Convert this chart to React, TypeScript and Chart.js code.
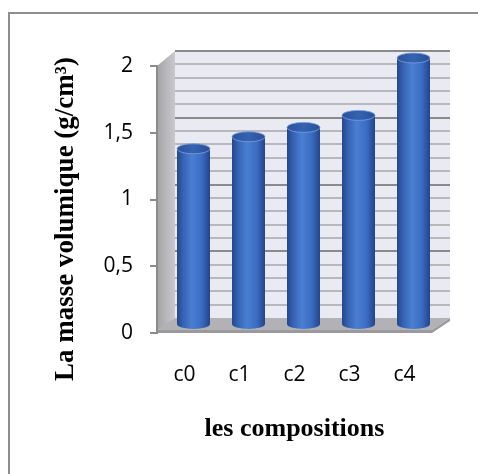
import React, { useEffect, useRef } from "react";
import { Chart, registerables } from "chart.js";

Chart.register(...registerables);

// ---- data ----
const categories = ["c0", "c1", "c2", "c3", "c4"];
const densities = [1.32, 1.41, 1.48, 1.57, 2.0];
const yTickValues = [0, 0.5, 1, 1.5, 2];
const yTitle = "La masse volumique (g/cm³)";
const xTitle = "les compositions";

// ---- style ----
const WALL_DX = 18;
const WALL_DY = -15;
const BAR_DX = 9;
const BAR_DY = -8;
const BAR_RY = 5;
const BAR_FRACTION = 0.6;
const MINOR_STEP = 0.1;
const TICK_FONT = '"Open Sans", "DejaVu Sans", sans-serif';
const TITLE_FONT = '"Liberation Serif", "DejaVu Serif", serif';

function sideGradient(ctx: CanvasRenderingContext2D, cx: number, half: number) {
  const g = ctx.createLinearGradient(cx - half, 0, cx + half, 0);
  g.addColorStop(0, "#24478a");
  g.addColorStop(0.18, "#3562b4");
  g.addColorStop(0.45, "#4a7fd2");
  g.addColorStop(0.75, "#3b6cc2");
  g.addColorStop(1, "#23448a");
  return g;
}

function topGradient(ctx: CanvasRenderingContext2D, cx: number, half: number) {
  const g = ctx.createLinearGradient(cx - half, 0, cx + half, 0);
  g.addColorStop(0, "#2b519c");
  g.addColorStop(0.5, "#3563b2");
  g.addColorStop(1, "#2a4f98");
  return g;
}

function barFill(c: any) {
  const chart = c.chart;
  const xs = chart.scales && chart.scales.x;
  if (!xs || c.type !== "data" || !chart.chartArea) return "#3a6bc0";
  const slot = (xs.right - xs.left) / categories.length;
  const cx = xs.getPixelForValue(c.dataIndex);
  return sideGradient(chart.ctx, cx, (slot * BAR_FRACTION) / 2);
}

const threeD = {
  id: "threeD",
  beforeDraw(chart: any) {
    const { ctx, chartArea: a, scales } = chart;
    const y = scales.y;
    const L = a.left;
    const R = a.right;
    const y0 = y.getPixelForValue(0);
    const yTop = y.getPixelForValue(y.max);
    ctx.save();
    // back wall
    ctx.fillStyle = "#e9eaf2";
    ctx.fillRect(L + WALL_DX, yTop + WALL_DY, R - L, y0 - yTop);
    // left wall
    const lg = ctx.createLinearGradient(L, 0, L + WALL_DX, 0);
    lg.addColorStop(0, "#a4a4a6");
    lg.addColorStop(1, "#c9c9cd");
    ctx.fillStyle = lg;
    ctx.beginPath();
    ctx.moveTo(L, yTop);
    ctx.lineTo(L + WALL_DX, yTop + WALL_DY);
    ctx.lineTo(L + WALL_DX, y0 + WALL_DY);
    ctx.lineTo(L, y0);
    ctx.closePath();
    ctx.fill();
    // gridlines on back wall
    const n = Math.round(y.max / MINOR_STEP);
    for (let i = 1; i <= n; i++) {
      const v = i * MINOR_STEP;
      const major = i % 5 === 0;
      const py = Math.round(y.getPixelForValue(v) + WALL_DY);
      ctx.strokeStyle = major ? "#8a8a8c" : "#b8b8bc";
      ctx.lineWidth = 2;
      ctx.beginPath();
      ctx.moveTo(L + WALL_DX, py);
      ctx.lineTo(R + WALL_DX, py);
      ctx.stroke();
    }
    // floor top
    ctx.fillStyle = "#b2b2b6";
    ctx.beginPath();
    ctx.moveTo(L, y0 - 3);
    ctx.lineTo(L + WALL_DX, y0 + WALL_DY);
    ctx.lineTo(R + WALL_DX, y0 + WALL_DY);
    ctx.lineTo(R, y0 - 3);
    ctx.closePath();
    ctx.fill();
    // floor front face
    ctx.fillStyle = "#9a9a9e";
    ctx.fillRect(L, y0 - 3, R - L, 3);
    ctx.beginPath();
    ctx.moveTo(R, y0 - 3);
    ctx.lineTo(R + WALL_DX, y0 + WALL_DY);
    ctx.lineTo(R + WALL_DX, y0 + WALL_DY + 3);
    ctx.lineTo(R, y0);
    ctx.closePath();
    ctx.fill();
    ctx.restore();
  },
  beforeDatasetsDraw(chart: any) {
    chart.ctx.save();
    chart.ctx.translate(BAR_DX, BAR_DY);
  },
  afterDatasetsDraw(chart: any) {
    const ctx = chart.ctx;
    const meta = chart.getDatasetMeta(0);
    meta.data.forEach((el: any) => {
      const { x, y, base, width } = el.getProps(["x", "y", "base", "width"], true);
      const half = width / 2;
      ctx.beginPath();
      ctx.ellipse(x, base, half, BAR_RY, 0, 0, Math.PI);
      ctx.fillStyle = sideGradient(ctx, x, half);
      ctx.fill();
      ctx.beginPath();
      ctx.ellipse(x, y, half, BAR_RY, 0, 0, Math.PI * 2);
      ctx.fillStyle = topGradient(ctx, x, half);
      ctx.fill();
      ctx.strokeStyle = "rgba(120,160,225,0.8)";
      ctx.lineWidth = 1;
      ctx.stroke();
    });
    ctx.restore();
  },
  afterDraw(chart: any) {
    const { ctx, chartArea: a } = chart;
    ctx.save();
    ctx.fillStyle = "#000";
    ctx.font = `bold 27px ${TITLE_FONT}`;
    ctx.textAlign = "center";
    ctx.textBaseline = "middle";
    ctx.translate(66, 219);
    ctx.rotate(-Math.PI / 2);
    ctx.fillText(yTitle, 0, 0);
    ctx.restore();
    ctx.save();
    ctx.fillStyle = "#000";
    ctx.font = `bold 26px ${TITLE_FONT}`;
    ctx.textAlign = "center";
    ctx.textBaseline = "alphabetic";
    ctx.fillText(xTitle, (a.left + a.right) / 2, 436);
    ctx.restore();
  },
};

export default function App() {
  const ref = useRef<HTMLCanvasElement>(null);
  useEffect(() => {
    const canvas = ref.current;
    if (!canvas) return;
    const chart = new Chart(canvas, {
      type: "bar",
      data: {
        labels: categories,
        datasets: [
          {
            data: densities,
            backgroundColor: barFill,
            borderWidth: 0,
            categoryPercentage: 1,
            barPercentage: BAR_FRACTION,
            clip: false,
          } as any,
        ],
      },
      options: {
        responsive: false,
        animation: false,
        devicePixelRatio: 1,
        layout: { padding: { top: 66, right: 46, left: 0, bottom: 0 } },
        plugins: { legend: { display: false }, tooltip: { enabled: false } },
        scales: {
          x: {
            grid: { display: false, drawTicks: false },
            border: { display: false },
            ticks: {
              padding: 29,
              color: "#000",
              font: { family: TICK_FONT, size: 21 },
            },
            afterFit: (s: any) => {
              s.height = 141;
            },
          },
          y: {
            min: 0,
            max: 2,
            afterBuildTicks: (s: any) => {
              s.ticks = yTickValues.map((v) => ({ value: v }));
            },
            ticks: {
              padding: 17,
              color: "#000",
              font: { family: TICK_FONT, size: 21 },
              callback: (v: any) => String(v).replace(".", ","),
            },
            grid: {
              drawOnChartArea: false,
              drawTicks: true,
              tickLength: 7,
              color: "#8c8c8c",
              lineWidth: 2,
            },
            border: { display: true, color: "#8c8c8c", width: 2 },
            afterFit: (s: any) => {
              s.width = 157;
            },
          },
        },
      } as any,
      plugins: [threeD],
    });
    return () => chart.destroy();
  }, []);
  return (
    <div
      style={{
        position: "fixed",
        left: 0,
        top: 0,
        width: 478,
        height: 474,
        overflow: "hidden",
        background: "#fff",
      }}
    >
      <div
        style={{
          position: "absolute",
          left: 8,
          top: 12,
          width: 540,
          height: 540,
          border: "2px solid #8e8e8e",
          boxSizing: "border-box",
        }}
      />
      <canvas
        ref={ref}
        width={478}
        height={474}
        style={{ position: "absolute", left: 0, top: 0, width: 478, height: 474 }}
      />
    </div>
  );
}
